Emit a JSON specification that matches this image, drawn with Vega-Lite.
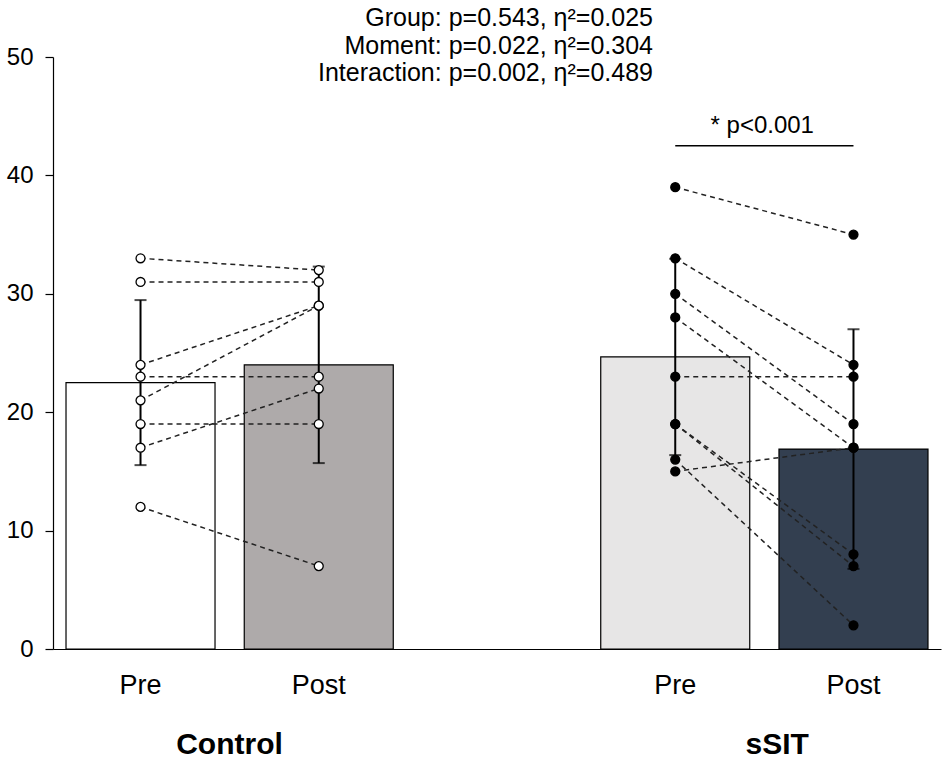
{
  "$schema": "https://vega.github.io/schema/vega-lite/v6.json",
  "width": 888,
  "height": 592,
  "autosize": {"type": "none"},
  "padding": {"left": 53, "top": 57, "right": 4, "bottom": 110},
  "background": "white",
  "config": {"view": {"stroke": null}, "font": "Liberation Sans"},
  "title": {
    "text": ["Group: p=0.543, η²=0.025", "Moment: p=0.022, η²=0.304", "Interaction: p=0.002, η²=0.489"],
    "anchor": "end",
    "frame": "group",
    "align": "right",
    "dx": -288,
    "offset": -41,
    "fontSize": 25,
    "fontWeight": "normal",
    "lineHeight": 27.5,
    "font": "Liberation Sans",
    "color": "black"
  },
  "datasets": {
    "scores": [
      {"subject": "c1", "group": "Control", "cond": "C-Pre", "value": 33},
      {"subject": "c1", "group": "Control", "cond": "C-Post", "value": 32},
      {"subject": "c2", "group": "Control", "cond": "C-Pre", "value": 31},
      {"subject": "c2", "group": "Control", "cond": "C-Post", "value": 31},
      {"subject": "c3", "group": "Control", "cond": "C-Pre", "value": 24},
      {"subject": "c3", "group": "Control", "cond": "C-Post", "value": 29},
      {"subject": "c4", "group": "Control", "cond": "C-Pre", "value": 21},
      {"subject": "c4", "group": "Control", "cond": "C-Post", "value": 29},
      {"subject": "c5", "group": "Control", "cond": "C-Pre", "value": 23},
      {"subject": "c5", "group": "Control", "cond": "C-Post", "value": 23},
      {"subject": "c6", "group": "Control", "cond": "C-Pre", "value": 17},
      {"subject": "c6", "group": "Control", "cond": "C-Post", "value": 22},
      {"subject": "c7", "group": "Control", "cond": "C-Pre", "value": 19},
      {"subject": "c7", "group": "Control", "cond": "C-Post", "value": 19},
      {"subject": "c8", "group": "Control", "cond": "C-Pre", "value": 12},
      {"subject": "c8", "group": "Control", "cond": "C-Post", "value": 7},
      {"subject": "s1", "group": "sSIT", "cond": "S-Pre", "value": 39},
      {"subject": "s1", "group": "sSIT", "cond": "S-Post", "value": 35},
      {"subject": "s2", "group": "sSIT", "cond": "S-Pre", "value": 33},
      {"subject": "s2", "group": "sSIT", "cond": "S-Post", "value": 24},
      {"subject": "s3", "group": "sSIT", "cond": "S-Pre", "value": 30},
      {"subject": "s3", "group": "sSIT", "cond": "S-Post", "value": 19},
      {"subject": "s4", "group": "sSIT", "cond": "S-Pre", "value": 28},
      {"subject": "s4", "group": "sSIT", "cond": "S-Post", "value": 17},
      {"subject": "s5", "group": "sSIT", "cond": "S-Pre", "value": 23},
      {"subject": "s5", "group": "sSIT", "cond": "S-Post", "value": 23},
      {"subject": "s6", "group": "sSIT", "cond": "S-Pre", "value": 19},
      {"subject": "s6", "group": "sSIT", "cond": "S-Post", "value": 8},
      {"subject": "s7", "group": "sSIT", "cond": "S-Pre", "value": 19},
      {"subject": "s7", "group": "sSIT", "cond": "S-Post", "value": 7},
      {"subject": "s8", "group": "sSIT", "cond": "S-Pre", "value": 16},
      {"subject": "s8", "group": "sSIT", "cond": "S-Post", "value": 2},
      {"subject": "s9", "group": "sSIT", "cond": "S-Pre", "value": 15},
      {"subject": "s9", "group": "sSIT", "cond": "S-Post", "value": 17}
    ]
  },
  "data": {"name": "scores"},
  "resolve": {"axis": {"x": "independent"}},
  "layer": [
    {
      "mark": {"type": "bar", "stroke": "black", "strokeWidth": 1.2},
      "encoding": {
        "x": {
          "field": "cond",
          "type": "nominal",
          "scale": {
            "type": "band",
            "domain": ["C-Pre", "C-Post", "gap", "S-Pre", "S-Post"],
            "paddingInner": 0.164,
            "paddingOuter": 0.073
          },
          "axis": {
            "title": null,
            "orient": "bottom",
            "domain": true,
            "domainColor": "black",
            "domainWidth": 1.2,
            "ticks": false,
            "labelAngle": 0,
            "labelFontSize": 27,
            "labelColor": "black",
            "labelPadding": 23,
            "labelExpr": "datum.value == 'C-Pre' || datum.value == 'S-Pre' ? 'Pre' : (datum.value == 'gap' ? '' : 'Post')"
          }
        },
        "y": {
          "aggregate": "mean",
          "field": "value",
          "type": "quantitative",
          "scale": {"domain": [0, 50], "nice": false},
          "axis": {
            "title": null,
            "values": [0, 10, 20, 30, 40, 50],
            "grid": false,
            "domainColor": "black",
            "domainWidth": 1.2,
            "tickColor": "black",
            "tickSize": 8,
            "tickWidth": 1.2,
            "labelFontSize": 24,
            "labelColor": "black",
            "labelPadding": 12
          }
        },
        "color": {
          "field": "cond",
          "type": "nominal",
          "scale": {
            "domain": ["C-Pre", "C-Post", "S-Pre", "S-Post"],
            "range": ["#ffffff", "#aeaaaa", "#e7e6e6", "#333f50"]
          },
          "legend": null
        }
      }
    },
    {
      "mark": {"type": "line", "strokeDash": [5, 4], "color": "#222222", "strokeWidth": 1.5},
      "encoding": {
        "x": {"field": "cond", "type": "nominal", "axis": null},
        "y": {"field": "value", "type": "quantitative", "title": null},
        "detail": {"field": "subject", "type": "nominal"}
      }
    },
    {
      "mark": {"type": "errorbar", "extent": "stdev", "ticks": true, "size": 12, "thickness": 2, "color": "black"},
      "encoding": {
        "x": {"field": "cond", "type": "nominal", "axis": null},
        "y": {"field": "value", "type": "quantitative", "title": null}
      }
    },
    {
      "mark": {"type": "point", "filled": true, "size": 80, "stroke": "black", "strokeWidth": 1.3, "opacity": 1},
      "encoding": {
        "x": {
          "field": "cond",
          "type": "nominal",
          "axis": {
            "title": null,
            "orient": "bottom",
            "domain": false,
            "ticks": false,
            "labelAngle": 0,
            "labelFontSize": 30,
            "labelFontWeight": "bold",
            "labelColor": "black",
            "labelPadding": 80,
            "labelOffset": {"condition": {"test": "datum.value == 'S-Pre'", "value": 102}, "value": 89},
            "labelExpr": "datum.value == 'C-Pre' ? 'Control' : (datum.value == 'S-Pre' ? 'sSIT' : '')"
          }
        },
        "y": {"field": "value", "type": "quantitative", "title": null},
        "fill": {
          "field": "group",
          "type": "nominal",
          "scale": {"domain": ["Control", "sSIT"], "range": ["#ffffff", "#000000"]},
          "legend": null
        }
      }
    },
    {
      "data": {"values": [{"label": "* p<0.001"}]},
      "layer": [
        {
          "mark": {"type": "rule", "color": "black", "strokeWidth": 1.5},
          "encoding": {
            "x": {"datum": "S-Pre", "type": "nominal", "axis": null},
            "x2": {"datum": "S-Post"},
            "y": {"datum": 42.5, "type": "quantitative"}
          }
        },
        {
          "mark": {"type": "text", "fontSize": 24, "color": "black", "baseline": "alphabetic", "dx": 87},
          "encoding": {
            "x": {"datum": "S-Pre", "type": "nominal", "axis": null},
            "y": {"datum": 43.6, "type": "quantitative"},
            "text": {"field": "label"}
          }
        }
      ]
    }
  ]
}
